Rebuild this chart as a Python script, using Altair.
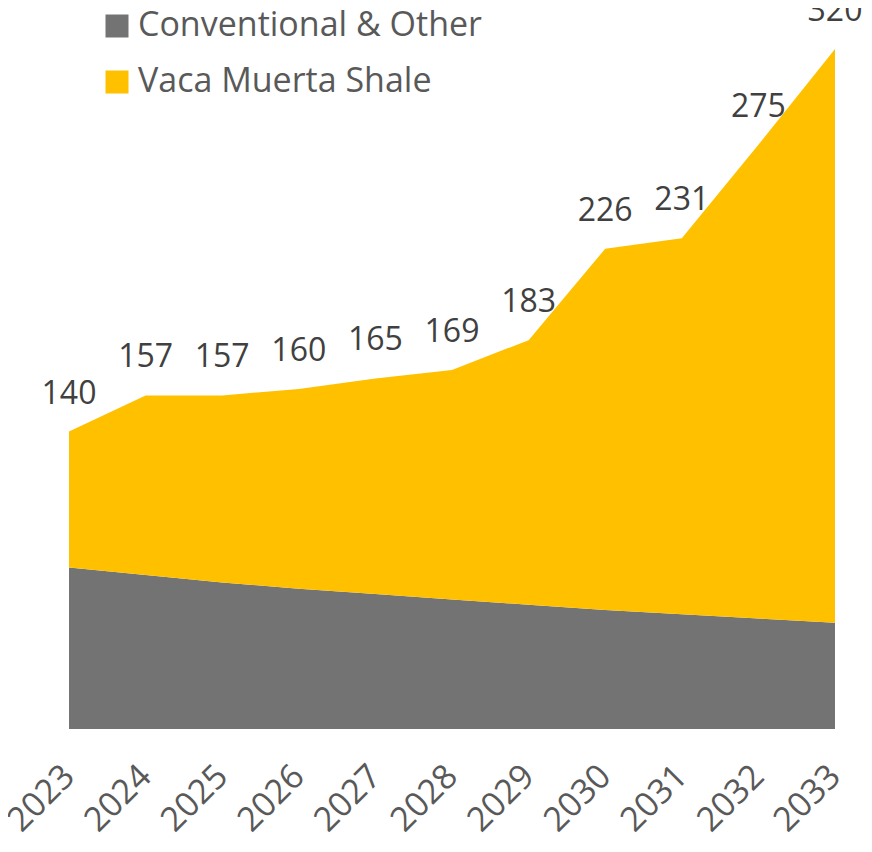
import altair as alt
import pandas as pd

years = ["2023", "2024", "2025", "2026", "2027", "2028", "2029", "2030", "2031", "2032", "2033"]
totals = [140, 157, 157, 160, 165, 169, 183, 226, 231, 275, 320]
conventional = [76, 72.5, 69, 66, 63.5, 61, 58.5, 56, 54, 52, 50]
series_names = ["Conventional & Other", "Vaca Muerta Shale"]
series_colors = ["#737373", "#FFC000"]

vaca = [t - c for t, c in zip(totals, conventional)]

rows = []
for y, c, v in zip(years, conventional, vaca):
    rows.append({"year": y, "series": series_names[0], "value": c, "ord": 0})
    rows.append({"year": y, "series": series_names[1], "value": v, "ord": 1})
df = pd.DataFrame(rows)
tot_df = pd.DataFrame({"year": years, "total": totals})

FONT = "Open Sans"

xenc = alt.X("year:O", scale=alt.Scale(type="point", padding=0),
             axis=alt.Axis(title=None, labelAngle=-45, labelFontSize=34, labelColor="#595959",
                           labelFont=FONT, domain=False, ticks=False, labelPadding=42,
                           labelAlign="right", labelBaseline="middle"))

area = alt.Chart(df).mark_area(interpolate="linear").encode(
    x=xenc,
    y=alt.Y("value:Q", stack="zero", scale=alt.Scale(domain=[0, 336], nice=False), axis=None),
    color=alt.Color("series:N", scale=alt.Scale(domain=series_names, range=series_colors),
                    legend=alt.Legend(title=None, orient="none", legendX=31, legendY=-6,
                                      symbolType="square", symbolSize=529, symbolStrokeWidth=0,
                                      labelFontSize=34, labelFont=FONT, labelColor="#595959",
                                      labelLimit=1000,
                                      rowPadding=22, labelOffset=4, padding=0)),
    order=alt.Order("ord:Q"),
)

labels = alt.Chart(tot_df).mark_text(fontSize=32, font=FONT, color="#404040",
                                     baseline="alphabetic", dy=-28).encode(
    x=alt.X("year:O", scale=alt.Scale(type="point", padding=0)),
    y=alt.Y("total:Q", scale=alt.Scale(domain=[0, 336], nice=False)),
    text="total:Q",
)

chart = alt.layer(area, labels).properties(
    width=766, height=714,
    autosize=alt.AutoSizeParams(type="none"),
    padding={"left": 61, "top": 7, "right": 29, "bottom": 115},
).configure_view(stroke=None).configure_axis(grid=False)

chart.save("out.html", embed_options={"renderer": "svg", "actions": False})
